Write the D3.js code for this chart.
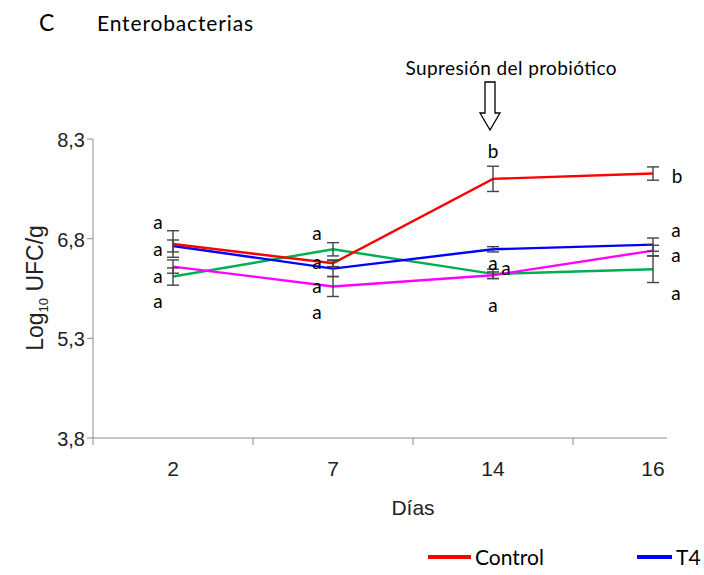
<!DOCTYPE html>
<html>
<head>
<meta charset="utf-8">
<script src="https://cdn.jsdelivr.net/npm/d3@7"></script>
<style>
  body { margin: 0; background: #fff; }
  svg { display: block; }
</style>
</head>
<body>
<svg id="chart" width="704" height="575"></svg>
<script>
// datos
const dias = ["2", "7", "14", "16"]
const yTicks = [3.8, 5.3, 6.8, 8.3]

const control = [6.72, 6.43, 7.70, 7.78]
const t4 = [6.69, 6.35, 6.64, 6.71]
const verde = [6.23, 6.64, 6.27, 6.34]
const magenta = [6.38, 6.08, 6.25, 6.62]

const errControl = [0.20, 0.05, 0.19, 0.10]
const errT4 = [0.09, 0.12, 0.04, 0.10]
const errVerde = [0.13, 0.10, 0.07, 0.20]
const errMagenta = [0.10, 0.15, 0.05, 0.08]

// letras de significancia: dia, letra, valor y desplazamiento
const letras = [
  ["2", "a", 7.04, -15], ["2", "a", 6.635, -15], ["2", "a", 6.23, -15], ["2", "a", 5.855, -15],
  ["7", "a", 6.875, -16], ["7", "a", 6.44, -16], ["7", "a", 6.08, -16], ["7", "a", 5.69, -16],
  ["14", "b", 8.12, 0], ["14", "a", 6.425, 0], ["14", "a", 6.35, 13], ["14", "a", 5.795, 0],
  ["16", "b", 7.745, 24], ["16", "a", 6.92, 23], ["16", "a", 6.545, 23], ["16", "a", 5.975, 23]
]

const series = [
  { name: "Verde", values: verde, err: errVerde, color: "#00b050" },
  { name: "Magenta", values: magenta, err: errMagenta, color: "#ff00ff" },
  { name: "T4", values: t4, err: errT4, color: "#0000ff" },
  { name: "Control", values: control, err: errControl, color: "#ff0000" }
]

const svg = d3.select("#chart")
const mLeft = 93, mTop = 139, mBottom = 438, axisEnd = 667

const x = d3.scaleBand().domain(dias).range([mLeft, 733]).paddingInner(0).paddingOuter(0)
const y = d3.scaleLinear().domain([3.8, 8.3]).range([mBottom, mTop])
const cx = d => x(d) + x.bandwidth() / 2

const axisColor = "#8c8c8c"
const calibri = "Lato, 'Open Sans', sans-serif"
const arial = "'Liberation Sans', Arial, sans-serif"

// titulo
svg.append("text").attr("x", 39).attr("y", 31).attr("font-family", calibri)
  .attr("font-size", 23).text("C")
svg.append("text").attr("x", 97).attr("y", 31).attr("font-family", calibri)
  .attr("font-size", 21).attr("textLength", 156).text("Enterobacterias")

// eje y
svg.append("line").attr("x1", mLeft).attr("x2", mLeft).attr("y1", mTop).attr("y2", mBottom)
  .attr("stroke", axisColor)
svg.selectAll(".ytick").data(yTicks).join("line")
  .attr("x1", mLeft - 6).attr("x2", mLeft).attr("y1", d => y(d)).attr("y2", d => y(d))
  .attr("stroke", axisColor)
svg.selectAll(".ylab").data(yTicks).join("text")
  .attr("x", mLeft - 8).attr("y", d => y(d) + 1).attr("dy", "0.35em")
  .attr("text-anchor", "end").attr("font-family", arial)
  .attr("font-size", 20).attr("fill", "#222")
  .text(d => d3.format(".1f")(d).replace(".", ","))

// eje x
svg.append("line").attr("x1", mLeft).attr("x2", axisEnd).attr("y1", mBottom).attr("y2", mBottom)
  .attr("stroke", axisColor)
svg.selectAll(".xtick").data(dias).join("line")
  .attr("x1", d => x(d)).attr("x2", d => x(d)).attr("y1", mBottom).attr("y2", mBottom + 7)
  .attr("stroke", axisColor)
svg.selectAll(".xlab").data(dias).join("text")
  .attr("x", d => cx(d)).attr("y", mBottom + 38).attr("text-anchor", "middle")
  .attr("font-family", arial).attr("font-size", 21)
  .attr("fill", "#222").text(d => d)

svg.append("text").attr("x", 413).attr("y", 515).attr("text-anchor", "middle")
  .attr("font-family", arial).attr("font-size", 21)
  .attr("fill", "#222").text("Días")

// titulo eje y con subindice
const yt = svg.append("text").attr("transform", "translate(43,288) rotate(-90)")
  .attr("text-anchor", "middle").attr("font-family", arial)
  .attr("font-size", 23).attr("fill", "#222")
yt.append("tspan").text("Log")
yt.append("tspan").attr("font-size", 13).attr("dy", 5).text("10")
yt.append("tspan").attr("dy", -5).text(" UFC/g")

// lineas
const line = d3.line().x((d, i) => cx(dias[i])).y(d => y(d))
svg.selectAll(".serie").data(series).join("path")
  .attr("d", s => line(s.values)).attr("fill", "none")
  .attr("stroke", s => s.color).attr("stroke-width", 2.4)

// barras de error
const errs = series.flatMap(s => s.values.map((v, i) => ({ d: dias[i], v, e: s.err[i] })))
const eb = svg.append("g").attr("stroke", "#444").attr("stroke-width", 1.4)
eb.selectAll(".ev").data(errs).join("line")
  .attr("x1", d => cx(d.d)).attr("x2", d => cx(d.d))
  .attr("y1", d => y(d.v - d.e)).attr("y2", d => y(d.v + d.e))
eb.selectAll(".ct").data(errs).join("line")
  .attr("x1", d => cx(d.d) - 6).attr("x2", d => cx(d.d) + 6)
  .attr("y1", d => y(d.v + d.e)).attr("y2", d => y(d.v + d.e))
eb.selectAll(".cb").data(errs).join("line")
  .attr("x1", d => cx(d.d) - 6).attr("x2", d => cx(d.d) + 6)
  .attr("y1", d => y(d.v - d.e)).attr("y2", d => y(d.v - d.e))

// letras
svg.selectAll(".letra").data(letras).join("text")
  .attr("x", d => cx(d[0]) + d[3]).attr("y", d => y(d[2])).attr("dy", "0.35em")
  .attr("text-anchor", "middle").attr("font-family", calibri).attr("font-size", 19)
  .text(d => d[1])

// anotacion y flecha
const ax = cx("14") - 3
svg.append("text").attr("x", 511).attr("y", 75).attr("text-anchor", "middle")
  .attr("font-family", calibri).attr("font-size", 19).attr("textLength", 211)
  .text("Supresión del probiótico")
svg.append("path")
  .attr("d", `M${ax - 5},82 L${ax + 5},82 L${ax + 5},113 L${ax + 10},113 L${ax},130 L${ax - 10},113 L${ax - 5},113 Z`)
  .attr("fill", "#fff").attr("stroke", "#000").attr("stroke-width", 1.3)

// leyenda (recortada como el original)
const leyenda = [["Control", "#ff0000", 428, 43], ["T4", "#0000ff", 637, 35]]
leyenda.forEach(([n, c, lx, w]) => {
  svg.append("line").attr("x1", lx).attr("x2", lx + w).attr("y1", 557).attr("y2", 557)
    .attr("stroke", c).attr("stroke-width", 4)
  svg.append("text").attr("x", lx + w + 4).attr("y", 558).attr("dy", "0.35em")
    .attr("font-family", calibri).attr("font-size", 21).text(n)
})
</script>
</body>
</html>
